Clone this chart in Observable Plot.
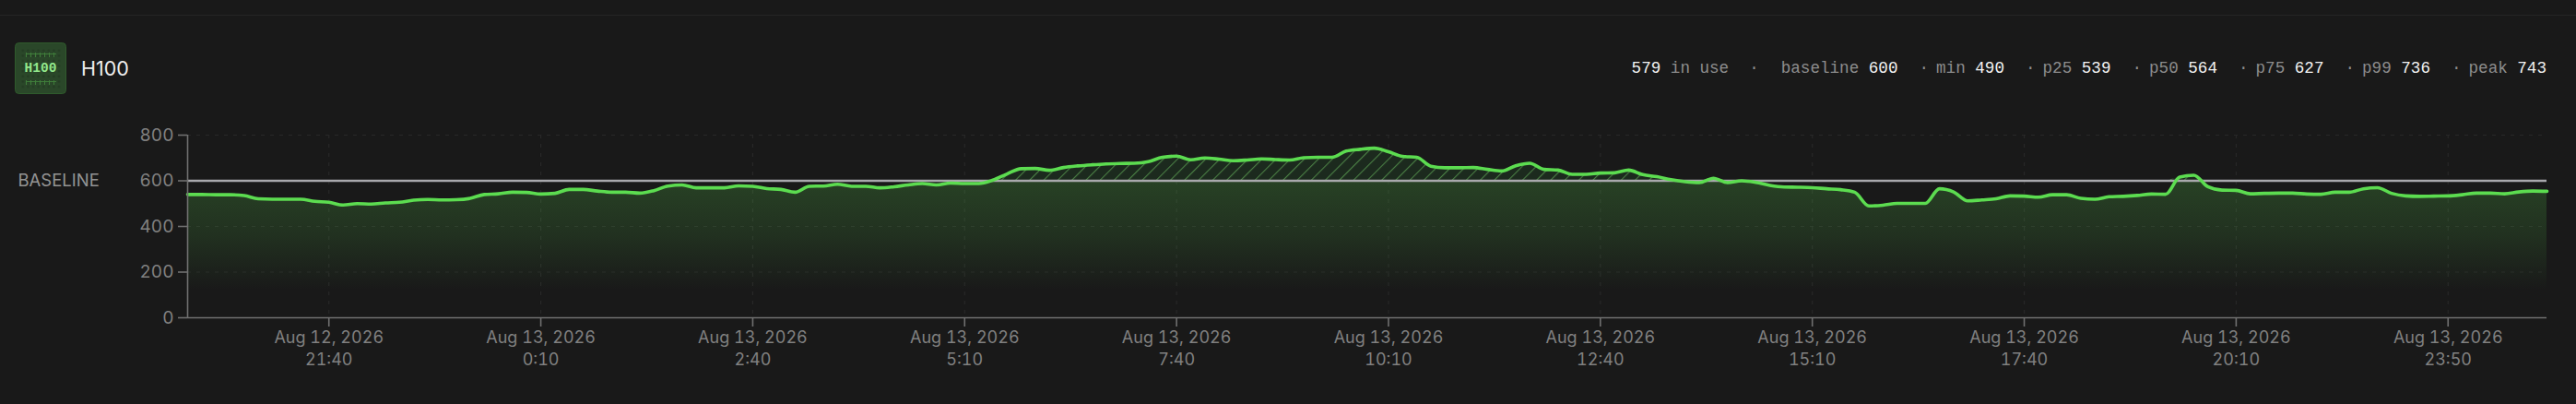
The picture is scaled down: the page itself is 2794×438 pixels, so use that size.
<!DOCTYPE html>
<html>
<head>
<meta charset="utf-8">
<script src="https://cdn.jsdelivr.net/npm/d3@7"></script>
<script src="https://cdn.jsdelivr.net/npm/@observablehq/plot@0.6"></script>
<style>
html,body{margin:0;padding:0;background:#191919;width:2794px;height:438px;overflow:hidden}
#top{position:absolute;left:0;right:0;top:16px;height:1px;background:#252525}
#head{position:absolute;left:16px;right:32px;top:46px;height:56px;display:flex;align-items:center}
#chip{position:relative;width:56px;height:56px;flex:none}
#chip svg{position:absolute;left:0;top:0}
#chip span{position:absolute;left:0;right:0;top:18px;text-align:center;font:700 14.5px/20px "Liberation Mono",monospace;color:#93e88c}
#name{margin-left:16px;font:21.5px "Inter",sans-serif;color:#ededed}
#stats{margin-left:auto;display:flex;font:17.6px "Liberation Mono",monospace;color:#8d8d8d;white-space:pre}
#stats b{font-weight:400;color:#f2f2f2}
#chart{position:absolute;left:0;top:120px}
</style>
</head>
<body>
<div id="top"></div>
<div id="head">
  <div id="chip">
    <svg width="56" height="56" viewBox="0 0 56 56">
      <defs><pattern id="dots" width="5.6" height="5.6" patternUnits="userSpaceOnUse"><rect x="2" y="2" width="2.4" height="2.4" fill="#243c23"/></pattern>
      <pattern id="pins" width="5" height="5" patternUnits="userSpaceOnUse"><path d="M2.5 0V5M0 2.5H5" stroke="#3f7d3a" stroke-width="1"/></pattern></defs>
      <rect x=".5" y=".5" width="55" height="55" rx="4" fill="#2a4729" stroke="#2f5a2c"/>
      <rect x="5" y="5" width="46" height="46" fill="url(#dots)"/>
      <rect x="12" y="11" width="33" height="5" fill="url(#pins)"/>
      <rect x="12" y="41" width="33" height="5" fill="url(#pins)"/>
    </svg>
    <span>H100</span>
  </div>
  <div id="name">H100</div>
  <div id="stats"></div>
</div>
<div id="chart"></div>
<script>
// GPU in use, one reading per 10-minute sample
const inUse = [540,540,539,539,535,521,519,519,519,510,506,494,500,498,503,506,515,518,516,517,
523,540,543,550,549,542,545,562,562,555,550,550,546,557,577,582,569,569,569,578,
576,566,562,550,576,577,585,576,576,569,574,582,588,582,590,588,588,603,630,653,
654,646,658,665,670,674,676,677,684,703,708,692,700,695,688,691,696,693,691,701,
703,703,730,738,743,727,707,703,664,657,657,658,650,643,666,677,650,647,628,628,
634,635,647,627,618,605,596,592,611,592,600,593,580,573,572,570,565,561,550,490,
493,501,501,501,565,551,512,516,521,534,533,528,539,539,523,519,530,532,536,542,
541,616,624,574,559,558,543,545,546,546,542,541,550,550,565,570,545,534,532,533,
534,539,546,546,543,551,555,554];
const baseline = 600;
const yTicks = [0,200,400,600,800];
const xTickSamples = [10,25,40,55,70,85,100,115,130,145,160];
const xTickDates = ["Aug 12, 2026","Aug 13, 2026","Aug 13, 2026","Aug 13, 2026","Aug 13, 2026","Aug 13, 2026","Aug 13, 2026","Aug 13, 2026","Aug 13, 2026","Aug 13, 2026","Aug 13, 2026"];
const xTickTimes = ["21:40","0:10","2:40","5:10","7:40","10:10","12:40","15:10","17:40","20:10","23:50"];
const statNames = ["baseline","min","p25","p50","p75","p99","peak"];
const statValues = [600,490,539,564,627,736,743];
const current = 579;

const stats = document.getElementById("stats");
stats.innerHTML = `<span><b>${current}</b> in use</span><span style="margin-left:22px">·</span>` +
  `<span style="margin-left:24px">${statNames[0]} <b>${statValues[0]}</b></span>` +
  statNames.slice(1).map((n,i)=>`<span style="margin-left:23px">·<span style="margin-left:8px">${n}</span> <b>${statValues[i+1]}</b></span>`).join("");

const rows = inUse.map((v,i)=>({i,v}));
const tickLabel = new Map(xTickSamples.map((s,k)=>[s,xTickDates[k]+"\n"+xTickTimes[k]]));
const defs = () => {
  const g = d3.create("svg:defs");
  g.html(`<linearGradient id="fade" x1="0" y1="0" x2="0" y2="1">
    <stop offset="0" stop-color="#5ad04e" stop-opacity=".22"/>
    <stop offset=".4" stop-color="#5ad04e" stop-opacity=".13"/>
    <stop offset=".8" stop-color="#5ad04e" stop-opacity="0"/>
  </linearGradient>
  <pattern id="hatch" width="10.8" height="10.8" patternUnits="userSpaceOnUse" patternTransform="rotate(45)">
    <rect width="10.8" height="10.8" fill="#1c2a1e"/>
    <line x1="0" y1="0" x2="0" y2="10.8" stroke="#4a8044" stroke-width="2.2"/>
  </pattern>`);
  return g.node();
};
const axisColor = "#707070", gridColor = "#282828", textColor = "#808080";
const chart = Plot.plot({
  width: 2794, height: 300,
  marginLeft: 203, marginRight: 32, marginTop: 26, marginBottom: 76,
  style: {background:"transparent", fontFamily:"Inter, sans-serif", fontSize:"18px", color:textColor},
  x: {domain:[0,inUse.length-1], axis:null},
  y: {domain:[0,800], axis:null},
  marks: [
    defs,
    Plot.gridY(yTicks.slice(1),{stroke:gridColor,strokeOpacity:1,strokeDasharray:"4,6",strokeWidth:1.2}),
    Plot.gridX(xTickSamples,{stroke:gridColor,strokeOpacity:1,strokeDasharray:"4,6",strokeWidth:1.2}),
    Plot.areaY(rows,{x:"i",y1:0,y2:d=>Math.min(d.v,baseline),fill:"url(#fade)",curve:"monotone-x"}),
    Plot.areaY(rows,{x:"i",y1:baseline,y2:d=>Math.max(d.v,baseline),fill:"url(#hatch)",curve:"monotone-x"}),
    Plot.ruleY([baseline],{stroke:"#a8a8ac",strokeWidth:2.6}),
    Plot.lineY(rows,{x:"i",y:"v",stroke:"#5cdc50",strokeWidth:3.6,curve:"monotone-x"}),
    Plot.ruleX([0],{stroke:axisColor,strokeWidth:1.6}),
    Plot.ruleY([0],{stroke:axisColor,strokeWidth:1.6}),
    Plot.axisY({ticks:yTicks,tickSize:10,tickPadding:5,stroke:axisColor,strokeWidth:1.6,fill:textColor,label:null,fontSize:19}),
    Plot.axisX({ticks:xTickSamples,tickSize:10,tickPadding:0,stroke:axisColor,strokeWidth:1.6,fill:textColor,label:null,
      tickFormat:d=>tickLabel.get(d),lineHeight:1.36,fontSize:18}),
    Plot.text(["BASELINE"],{frameAnchor:"left",y:[baseline],dx:-184,textAnchor:"start",fill:"#949494",fontSize:18.5,style:"letter-spacing:1.4px"})
  ]
});
document.getElementById("chart").appendChild(chart);
</script>
</body>
</html>
